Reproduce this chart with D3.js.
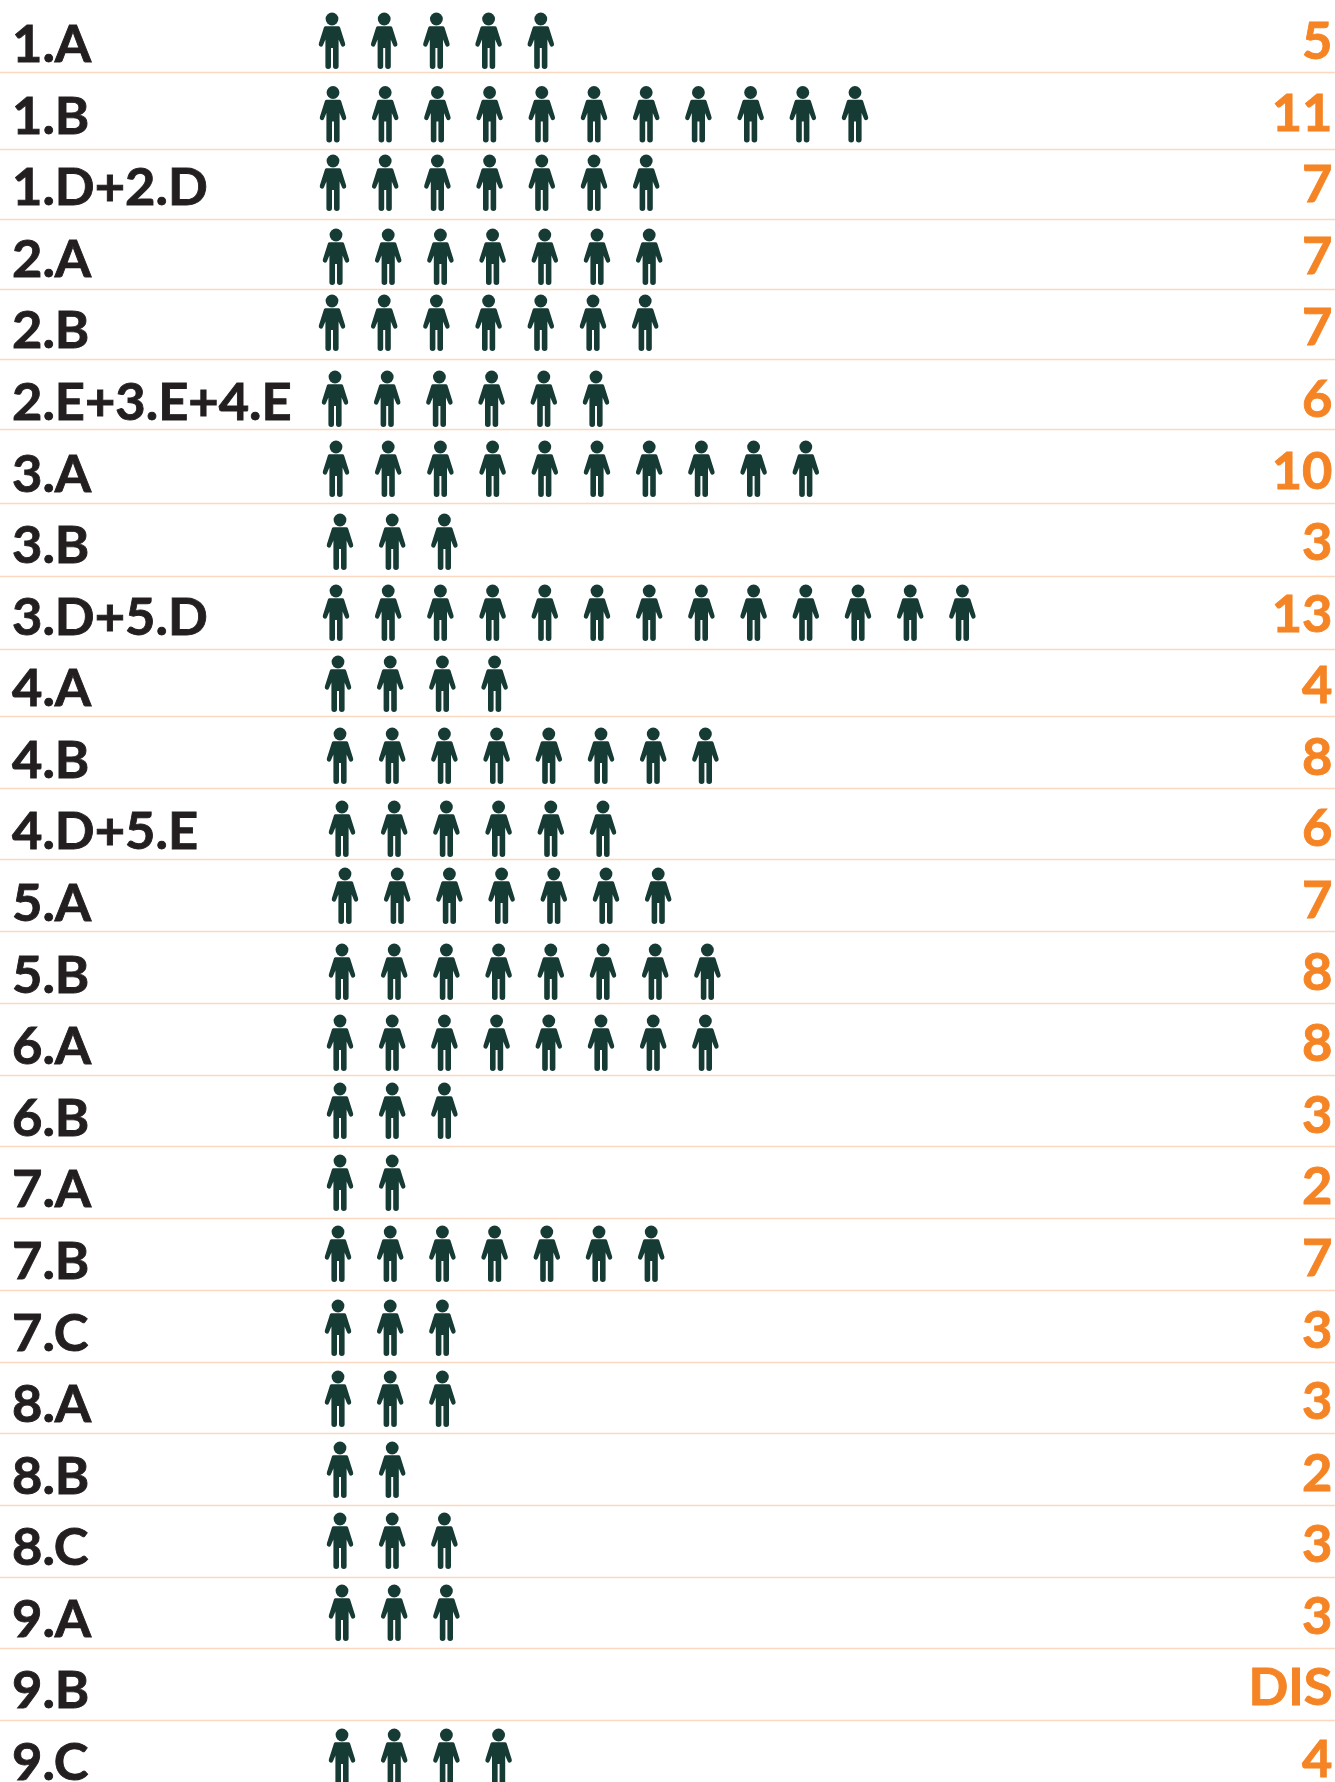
<!DOCTYPE html>
<html>
<head>
<meta charset="utf-8">
<script src="https://cdn.jsdelivr.net/npm/d3@7"></script>
<style>
  html, body { margin: 0; padding: 0; background: #fff; overflow: hidden; }
  text { font-family: Lato, "Open Sans", sans-serif; font-weight: 700; }
</style>
</head>
<body>
<script>
// Data
const categories = ['1.A', '1.B', '1.D+2.D', '2.A', '2.B', '2.E+3.E+4.E', '3.A', '3.B', '3.D+5.D',
  '4.A', '4.B', '4.D+5.E', '5.A', '5.B', '6.A', '6.B', '7.A', '7.B', '7.C', '8.A', '8.B', '8.C',
  '9.A', '9.B', '9.C'];
const counts = [5, 11, 7, 7, 7, 6, 10, 3, 13, 4, 8, 6, 7, 8, 8, 3, 2, 7, 3, 3, 2, 3, 3, null, 4];

// Layout: the rows of the source are not evenly spaced, so the scales get measured ranges
const rowRules = [72.5, 149.5, 219.5, 289.5, 359.5, 429.5, 503.5, 576.5, 649.5, 716.5, 788.5, 859.5, 931.5, 1003.5, 1075.5,
  1146.5, 1218.5, 1290.5, 1362.5, 1433.5, 1505.5, 1577.5, 1648.5, 1720.5];
const figureRows = [19, 92.5, 161, 235, 301, 377, 447, 520, 591, 662, 734, 807, 874, 950, 1021,
  1089, 1161, 1232, 1306, 1377, 1448, 1519, 1591, 1663, 1735];
const figureStarts = [332, 333, 333, 336, 332, 335, 336, 340, 336, 338, 340, 342, 345, 342, 340,
  340, 340, 338, 338, 338, 340, 340, 342, 342, 342];

const w = 1335;
const h = 1782;

const svg = d3.select('body')
  .append('svg')
  .attr('width', w)
  .attr('height', h)
  .style('display', 'block');

const yRule = d3.scaleOrdinal().domain(categories.slice(0, -1)).range(rowRules);
const yFigure = d3.scaleOrdinal().domain(categories).range(figureRows);
const xStart = d3.scaleOrdinal().domain(categories).range(figureStarts);
const yLabel = d3.scalePoint().domain(categories).range([62, 1780]);
const xFigure = d3.scaleLinear().domain([0, 12]).range([0, 626.4]);

// Row rules
svg.selectAll('.rule')
  .data(categories.slice(0, -1))
  .enter()
  .append('line')
  .attr('class', 'rule')
  .attr('x1', 0)
  .attr('x2', w)
  .attr('y1', d => yRule(d))
  .attr('y2', d => yRule(d))
  .attr('stroke', '#fbd8bf')
  .attr('stroke-width', 1.4);

// Category labels, stroked a little because the source face is heavier than Lato bold
svg.selectAll('.label')
  .data(categories)
  .enter()
  .append('text')
  .attr('class', 'label')
  .attr('x', 12)
  .attr('y', d => yLabel(d))
  .attr('font-size', 52.4)
  .attr('fill', '#231f20')
  .attr('stroke', '#231f20')
  .attr('stroke-width', 0.9)
  .text(d => d);

// Values on the right
svg.selectAll('.value')
  .data(categories)
  .enter()
  .append('text')
  .attr('class', 'value')
  .attr('x', 1332.5)
  .attr('y', d => yLabel(d) - 3)
  .attr('text-anchor', 'end')
  .attr('font-size', 52.4)
  .attr('fill', '#f58425')
  .attr('stroke', '#f58425')
  .attr('stroke-width', 0.9)
  .text((d, i) => counts[i] === null ? 'DIS' : counts[i]);

// Person figure, origin at the centre of the head
const bodyPath = 'M-6.4,7.3 L6.4,7.3 Q7.6,7.3 8.1,8.6 L13,24 Q13.8,26.8 11.7,27.6 Q9.9,28.1 9,26.2 L6.6,20.5 ' +
  'L6.6,47.2 Q6.6,49.9 3.8,49.9 Q1,49.9 1,47.2 L1,29 L-1,29 L-1,47.2 Q-1,49.9 -3.8,49.9 ' +
  'Q-6.6,49.9 -6.6,47.2 L-6.6,20.5 L-9,26.2 Q-9.9,28.1 -11.7,27.6 Q-13.8,26.8 -13,24 L-8.1,8.6 Q-7.6,7.3 -6.4,7.3 Z';

const rows = svg.selectAll('.row')
  .data(categories)
  .enter()
  .append('g')
  .attr('class', 'row')
  .attr('transform', d => `translate(${xStart(d)},${yFigure(d)})`);

const people = rows.selectAll('.person')
  .data((d, i) => d3.range(counts[i] || 0))
  .enter()
  .append('g')
  .attr('class', 'person')
  .attr('transform', d => `translate(${xFigure(d)},0)`)
  .attr('fill', '#163a34');

people.append('circle').attr('r', 6.4);
people.append('path').attr('d', bodyPath);
</script>
</body>
</html>
